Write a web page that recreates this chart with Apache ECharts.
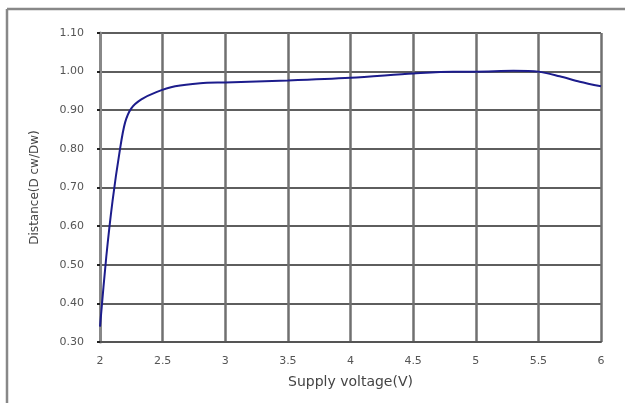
<!DOCTYPE html>
<html>
<head>
<meta charset="utf-8">
<script src="https://cdn.jsdelivr.net/npm/echarts@6/dist/echarts.min.js"></script>
<style>
html,body{margin:0;padding:0;background:#fff;}
#chart{width:625px;height:403px;}
</style>
</head>
<body>
<div id="chart"></div>
<script>
// Data
var voltage = [2.00, 2.05, 2.10, 2.16, 2.20, 2.25, 2.33, 2.45, 2.60, 2.80, 3.00, 3.50, 4.00, 4.50, 4.82, 5.00, 5.30, 5.50, 5.67, 5.83, 6.00];
var distance = [0.34, 0.52, 0.665, 0.80, 0.868, 0.905, 0.928, 0.947, 0.962, 0.970, 0.972, 0.977, 0.984, 0.995, 1.000, 1.000, 1.002, 1.000, 0.988, 0.974, 0.962];
var xTicks = ['2', '2.5', '3', '3.5', '4', '4.5', '5', '5.5', '6'];
var yTicks = ['0.30', '0.40', '0.50', '0.60', '0.70', '0.80', '0.90', '1.00', '1.10'];
var xName = 'Supply voltage(V)';
var yName = 'Distance(D cw/Dw)';

var points = voltage.map(function (v, i) { return [v, distance[i]]; });

var chart = echarts.init(document.getElementById('chart'));
chart.setOption({
  animation: false,
  backgroundColor: '#fff',
  grid: { left: 100, right: 24, top: 33, bottom: 61, containLabel: false },
  graphic: [
    { type: 'line', shape: { x1: 7, y1: 9, x2: 625, y2: 9 }, style: { stroke: '#888', lineWidth: 2.5 } },
    { type: 'line', shape: { x1: 7, y1: 9, x2: 7, y2: 403 }, style: { stroke: '#888', lineWidth: 2.5 } }
  ],
  xAxis: {
    type: 'value', min: 2, max: 6, interval: 0.5,
    name: xName, nameLocation: 'middle', nameGap: 33,
    nameTextStyle: { fontFamily: 'DejaVu Sans', fontSize: 14, color: '#444' },
    axisLine: { show: true, lineStyle: { color: '#555', width: 2 } },
    axisTick: { show: false },
    axisLabel: {
      margin: 14, fontFamily: 'DejaVu Sans', fontSize: 11, color: '#555',
      formatter: function (v) { var i = Math.round((v - 2) / 0.5); return xTicks[i]; }
    },
    splitLine: { show: true, lineStyle: { color: '#707070', width: 2.5 } }
  },
  yAxis: {
    type: 'value', min: 0.3, max: 1.1, interval: 0.1,
    name: yName, nameLocation: 'middle', nameGap: 59,
    nameTextStyle: { fontFamily: 'DejaVu Sans', fontSize: 12, color: '#444' },
    axisLine: { show: true, lineStyle: { color: '#888', width: 3 } },
    axisTick: { show: true, length: 3, lineStyle: { color: '#222', width: 2 } },
    axisLabel: {
      margin: 16, fontFamily: 'DejaVu Sans', fontSize: 11, color: '#555',
      formatter: function (v) { var i = Math.round((v - 0.3) / 0.1); return yTicks[i]; }
    },
    splitLine: { show: true, lineStyle: { color: '#5e5e5e', width: 2 } }
  },
  series: [{
    type: 'line',
    data: points,
    showSymbol: false,
    smooth: 0.3,
    lineStyle: { color: '#1c1c8c', width: 2 },
    z: 5
  }]
});
</script>
</body>
</html>
